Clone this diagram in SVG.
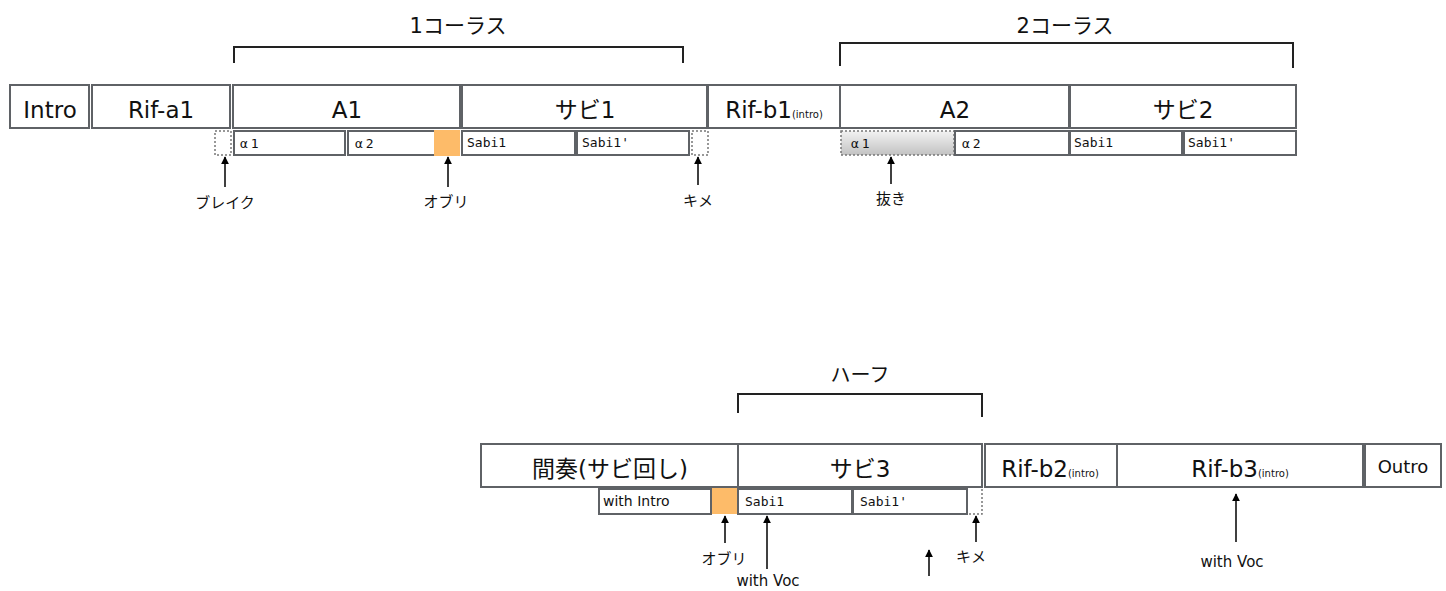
<svg xmlns="http://www.w3.org/2000/svg" width="1446" height="591" viewBox="0 0 1446 591">
<defs>
<marker id="ah" viewBox="0 0 10 10" refX="9" refY="5" markerWidth="8" markerHeight="8" markerUnits="userSpaceOnUse" orient="auto"><path d="M0,0 L10,5 L0,10 z" fill="#000"/></marker>
<linearGradient id="g" x1="0" y1="0" x2="0" y2="1"><stop offset="0" stop-color="#f2f2f2"/><stop offset="1" stop-color="#c2c2c2"/></linearGradient>
<style>
.b{fill:#fff;stroke:#5f6266;stroke-width:2}
.s{fill:#fff;stroke:#5f6266;stroke-width:2}
.d{fill:none;stroke:#777;stroke-width:1.5;stroke-dasharray:2,2}
.o{fill:#fdbb69;stroke:none}
.t{font-family:"DejaVu Sans","Noto Sans CJK JP",sans-serif;fill:#111}
.L{font-size:23px;text-anchor:middle}
.m{font-family:"DejaVu Sans Mono","Noto Sans CJK JP",monospace;font-size:13px}
.p{font-size:14px}
.a{font-size:15px;text-anchor:middle}
.br{fill:none;stroke:#222;stroke-width:2}
.ar{stroke:#000;stroke-width:1.5;fill:none;marker-end:url(#ah)}
</style>
</defs>
<g id="brackets">
<path class="br" d="M234,63 V47 H683 V63"/>
<text class="t" x="458" y="33" font-size="21" text-anchor="middle">1コーラス</text>
<path class="br" d="M840,66 V43 H1293 V68"/>
<text class="t" x="1065" y="33" font-size="21" text-anchor="middle">2コーラス</text>
<path class="br" d="M738,413 V394 H982 V417"/>
<text class="t" x="860" y="382" font-size="20" text-anchor="middle">ハーフ</text>
</g>
<g id="intro"><rect class="b" x="10" y="85" width="79" height="43"/><text class="t L" x="50" y="118">Intro</text></g>
<g id="rifa1"><rect class="b" x="92" y="85" width="138" height="43"/><text class="t L" x="161" y="118">Rif-a1</text></g>
<g id="a1"><rect class="b" x="233" y="85" width="227" height="43"/><text class="t L" x="347" y="118">A1</text>
<rect class="s" x="234" y="131" width="111" height="24"/><text class="t m" x="240" y="148" letter-spacing="3">α1</text>
<rect class="s" x="348" y="131" width="111" height="24"/><rect class="o" x="434" y="130" width="26" height="26"/><text class="t m" x="355" y="148" letter-spacing="3">α2</text>
<rect class="d" x="215" y="131" width="16" height="24"/>
</g>
<g id="sabi1"><rect class="b" x="462" y="85" width="245" height="43"/><text class="t L" x="585" y="118">サビ1</text>
<rect class="s" x="462" y="131" width="113" height="24"/><text class="t m" x="467" y="147">Sabi1</text>
<rect class="s" x="577" y="131" width="112" height="24"/><text class="t m" x="582" y="147">Sabi1'</text>
<rect class="d" x="692" y="131" width="16" height="24"/>
</g>
<g id="rifb1"><rect class="b" x="708" y="85" width="132" height="43"/><text class="t" x="774" y="118" text-anchor="middle"><tspan font-size="23">Rif-b1</tspan><tspan font-size="10">(intro)</tspan></text></g>
<g id="a2"><rect class="b" x="840" y="85" width="229" height="43"/><text class="t L" x="955" y="118">A2</text>
<rect x="841" y="131" width="113" height="24" fill="url(#g)" stroke="#777" stroke-width="1.5" stroke-dasharray="2,2"/><text class="t m" x="851" y="148" letter-spacing="3">α1</text>
<rect class="s" x="955" y="131" width="114" height="24"/><text class="t m" x="962" y="148" letter-spacing="3">α2</text>
</g>
<g id="sabi2"><rect class="b" x="1070" y="85" width="226" height="43"/><text class="t L" x="1183" y="118">サビ2</text>
<rect class="s" x="1070" y="131" width="112" height="24"/><text class="t m" x="1074" y="147">Sabi1</text>
<rect class="s" x="1184" y="131" width="112" height="24"/><text class="t m" x="1188" y="147">Sabi1'</text>
</g>
<g id="kansou"><rect class="b" x="481" y="444" width="257" height="43"/><text class="t L" x="610" y="477" font-size="24">間奏(サビ回し)</text>
<rect class="s" x="599" y="489" width="112" height="25"/><text class="t p" x="603" y="506">with Intro</text>
<rect class="o" x="712" y="488" width="26" height="26"/>
</g>
<g id="sabi3"><rect class="b" x="738" y="444" width="244" height="43"/><text class="t L" x="860" y="477">サビ3</text>
<rect class="s" x="738" y="489" width="114" height="25"/><text class="t m" x="745" y="506">Sabi1</text>
<rect class="s" x="853" y="489" width="114" height="25"/><text class="t m" x="860" y="506">Sabi1'</text>
<path class="d" d="M969,514 H982 V488"/>
</g>
<g id="rifb2"><rect class="b" x="985" y="444" width="132" height="43"/><text class="t" x="1050" y="477" text-anchor="middle"><tspan font-size="23">Rif-b2</tspan><tspan font-size="10">(intro)</tspan></text></g>
<g id="rifb3"><rect class="b" x="1117" y="444" width="246" height="43"/><text class="t" x="1240" y="477" text-anchor="middle"><tspan font-size="23">Rif-b3</tspan><tspan font-size="10">(intro)</tspan></text></g>
<g id="outro"><rect class="b" x="1365" y="444" width="76" height="43"/><text class="t" x="1403" y="473" font-size="18" text-anchor="middle">Outro</text></g>
<g id="connectors">
<line class="ar" x1="225" y1="187" x2="225" y2="157"/>
<line class="ar" x1="448" y1="187" x2="448" y2="157"/>
<line class="ar" x1="698" y1="185" x2="698" y2="157"/>
<line class="ar" x1="891" y1="184" x2="891" y2="157"/>
<line class="ar" x1="725" y1="543" x2="725" y2="516"/>
<line class="ar" x1="767" y1="569" x2="767" y2="516"/>
<line class="ar" x1="929" y1="576" x2="929" y2="550"/>
<line class="ar" x1="976" y1="542" x2="976" y2="516"/>
<line class="ar" x1="1236" y1="542" x2="1236" y2="494"/>
</g>
<g id="labels">
<text class="t a" x="225" y="208">ブレイク</text>
<text class="t a" x="446" y="207">オブリ</text>
<text class="t a" x="698" y="206">キメ</text>
<text class="t a" x="891" y="204">抜き</text>
<text class="t a" x="724" y="564">オブリ</text>
<text class="t a" x="768" y="586">with Voc</text>
<text class="t a" x="971" y="562">キメ</text>
<text class="t a" x="1232" y="567">with Voc</text>
</g>
</svg>
